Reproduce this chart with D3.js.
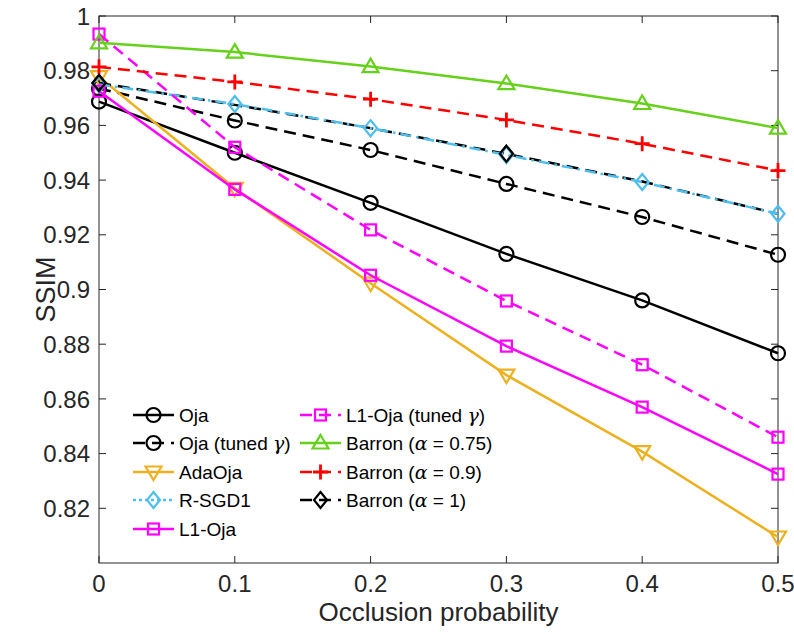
<!DOCTYPE html>
<html>
<head>
<meta charset="utf-8">
<script src="https://cdn.jsdelivr.net/npm/d3@7"></script>
<style>
  body { margin: 0; background: #fff; }
  svg { display: block; }
  text { font-family: "Liberation Sans", Arial, sans-serif; }
</style>
</head>
<body>
<svg id="chart"></svg>
<script>
// x values (occlusion probability)
const probs = [0, 0.1, 0.2, 0.3, 0.4, 0.5];

// SSIM per method
const oja        = [0.9687, 0.9500, 0.9317, 0.9130, 0.8960, 0.8767];
const ojaTuned   = [0.9735, 0.9618, 0.9510, 0.9386, 0.9265, 0.9127];
const adaOja     = [0.9778, 0.9370, 0.9023, 0.8687, 0.8407, 0.8095];
const rsgd1      = [0.9750, 0.9678, 0.9590, 0.9492, 0.9393, 0.9277];
const l1Oja      = [0.9725, 0.9366, 0.9052, 0.8793, 0.8570, 0.8325];
const l1OjaTuned = [0.9934, 0.9520, 0.9218, 0.8958, 0.8725, 0.8460];
const barron075  = [0.9902, 0.9868, 0.9815, 0.9753, 0.9680, 0.9590];
const barron09   = [0.9814, 0.9759, 0.9696, 0.9620, 0.9533, 0.9435];
const barron1    = [0.9755, 0.9675, 0.9590, 0.9496, 0.9395, 0.9277];

const xTicks = [0, 0.1, 0.2, 0.3, 0.4, 0.5];
const yTicks = [0.82, 0.84, 0.86, 0.88, 0.9, 0.92, 0.94, 0.96, 0.98, 1];

const width = 794, height = 634;
const margin = { left: 99, right: 16, top: 16, bottom: 71 };

const svg = d3.select("#chart").attr("width", width).attr("height", height);

const x = d3.scaleLinear().domain([0, 0.5]).range([margin.left, width - margin.right]);
const y = d3.scaleLinear().domain([0.8, 1]).range([height - margin.bottom, margin.top]);

const axisColor = "#262626";

// box
svg.append("rect")
    .attr("x", x(0)).attr("y", y(1))
    .attr("width", x(0.5) - x(0)).attr("height", y(0.8) - y(1))
    .attr("fill", "none").attr("stroke", axisColor).attr("stroke-width", 1);

// ticks (inside, mirrored on opposite sides)
const tickLen = 7;
xTicks.forEach(function (t) {
    svg.append("line").attr("x1", x(t)).attr("x2", x(t))
        .attr("y1", y(0.8)).attr("y2", y(0.8) - tickLen).attr("stroke", axisColor);
    svg.append("line").attr("x1", x(t)).attr("x2", x(t))
        .attr("y1", y(1)).attr("y2", y(1) + tickLen).attr("stroke", axisColor);
    svg.append("text")
        .attr("x", x(t)).attr("y", y(0.8) + 29)
        .attr("text-anchor", "middle").attr("font-size", 24).attr("fill", axisColor)
        .text(t === 0 ? "0" : d3.format(".1f")(t));
});
yTicks.forEach(function (t) {
    svg.append("line").attr("x1", x(0)).attr("x2", x(0) + tickLen)
        .attr("y1", y(t)).attr("y2", y(t)).attr("stroke", axisColor);
    svg.append("line").attr("x1", x(0.5)).attr("x2", x(0.5) - tickLen)
        .attr("y1", y(t)).attr("y2", y(t)).attr("stroke", axisColor);
    svg.append("text")
        .attr("x", x(0) - 9).attr("y", y(t)).attr("dy", "0.36em")
        .attr("text-anchor", "end").attr("font-size", 24).attr("fill", axisColor)
        .text(t === 1 ? "1" : String(t));
});

// axis labels
svg.append("text")
    .attr("x", (x(0) + x(0.5)) / 2).attr("y", 621)
    .attr("text-anchor", "middle").attr("font-size", 26).attr("fill", axisColor)
    .text("Occlusion probability");
svg.append("text")
    .attr("transform", "translate(55," + ((y(0.8) + y(1)) / 2) + ")rotate(-90)")
    .attr("text-anchor", "middle").attr("font-size", 27).attr("fill", axisColor)
    .text("SSIM");

// marker shapes
function marker(g, shape, cx, cy, color) {
    const sw = 2.2;
    if (shape === "circle") {
        g.append("circle").attr("cx", cx).attr("cy", cy).attr("r", 7)
            .attr("fill", "none").attr("stroke", color).attr("stroke-width", sw);
    } else if (shape === "square") {
        g.append("rect").attr("x", cx - 5.5).attr("y", cy - 5.5).attr("width", 11).attr("height", 11)
            .attr("fill", "none").attr("stroke", color).attr("stroke-width", sw);
    } else if (shape === "triUp") {
        g.append("path").attr("d", `M${cx},${cy - 8}L${cx + 8},${cy + 5.5}L${cx - 8},${cy + 5.5}Z`)
            .attr("fill", "none").attr("stroke", color).attr("stroke-width", sw);
    } else if (shape === "triDown") {
        g.append("path").attr("d", `M${cx},${cy + 8}L${cx + 8},${cy - 5.5}L${cx - 8},${cy - 5.5}Z`)
            .attr("fill", "none").attr("stroke", color).attr("stroke-width", sw);
    } else if (shape === "diamond") {
        g.append("path").attr("d", `M${cx},${cy - 8}L${cx + 6.5},${cy}L${cx},${cy + 8}L${cx - 6.5},${cy}Z`)
            .attr("fill", "none").attr("stroke", color).attr("stroke-width", sw);
    } else if (shape === "plus") {
        g.append("path").attr("d", `M${cx - 7.5},${cy}H${cx + 7.5}M${cx},${cy - 7.5}V${cy + 7.5}`)
            .attr("fill", "none").attr("stroke", color).attr("stroke-width", 2.8);
    }
}

const dash = "12,7";
const dashDot = "11,5,2.5,5";

const series = [
    { name: "Oja", vals: oja, color: "#000000", dash: null, shape: "circle" },
    { name: "Oja (tuned γ)", vals: ojaTuned, color: "#000000", dash: dash, shape: "circle" },
    { name: "AdaOja", vals: adaOja, color: "#EDB120", dash: null, shape: "triDown" },
    { name: "Barron (α = 1)", vals: barron1, color: "#000000", dash: dash, shape: "diamond", marks: [0, 3] },
    { name: "R-SGD1", vals: rsgd1, color: "#4DBEEE", dash: dashDot, shape: "diamond" },
    { name: "L1-Oja", vals: l1Oja, color: "#FF00FF", dash: null, shape: "square" },
    { name: "L1-Oja (tuned γ)", vals: l1OjaTuned, color: "#FF00FF", dash: dash, shape: "square" },
    { name: "Barron (α = 0.75)", vals: barron075, color: "#66D11A", dash: null, shape: "triUp" },
    { name: "Barron (α = 0.9)", vals: barron09, color: "#FF0000", dash: dash, shape: "plus" }
];

const line = d3.line().x(function (d) { return x(d[0]); }).y(function (d) { return y(d[1]); });
const plot = svg.append("g");

series.forEach(function (s) {
    const pts = probs.map(function (p, i) { return [p, s.vals[i]]; });
    plot.append("path").attr("d", line(pts))
        .attr("fill", "none").attr("stroke", s.color).attr("stroke-width", 2.5)
        .attr("stroke-dasharray", s.dash);
    const g = plot.append("g");
    pts.forEach(function (p, i) {
        if (s.marks && s.marks.indexOf(i) < 0) return;
        marker(g, s.shape, x(p[0]), y(p[1]), s.color);
    });
});
// Barron (α = 1) markers drawn on top where they show
const topMarks = plot.append("g");
[0, 3].forEach(function (i) { marker(topMarks, "diamond", x(probs[i]), y(barron1[i]), "#000000"); });

// legend (two columns, no box)
const legendOrder = [
    [series[0], 133, 415], [series[1], 133, 443], [series[2], 133, 472], [series[4], 133, 500], [series[5], 133, 529],
    [series[6], 300, 415], [series[7], 300, 443], [series[8], 300, 472], [series[3], 300, 500]
];
legendOrder.forEach(function (e) {
    const s = e[0], lx = e[1], ly = e[2];
    const g = svg.append("g");
    g.append("line").attr("x1", lx).attr("x2", lx + 41).attr("y1", ly).attr("y2", ly)
        .attr("stroke", s.color).attr("stroke-width", 2.5)
        .attr("stroke-dasharray", s.dash ? (s.dash === dash ? dash : "3,3,3,3") : null);
    marker(g, s.shape, lx + 20.5, ly, s.color);
    const t = g.append("text").attr("x", lx + 46).attr("y", ly).attr("dy", "0.36em")
        .attr("font-size", 19).attr("fill", "#000");
    const m = s.name.match(/^(.*?)([γα])(.*)$/);
    if (m) {
        t.append("tspan").text(m[1]);
        t.append("tspan").attr("font-family", "DejaVu Serif").attr("font-style", "italic").text(m[2]);
        t.append("tspan").text(m[3]);
    } else {
        t.text(s.name);
    }
});
</script>
</body>
</html>
